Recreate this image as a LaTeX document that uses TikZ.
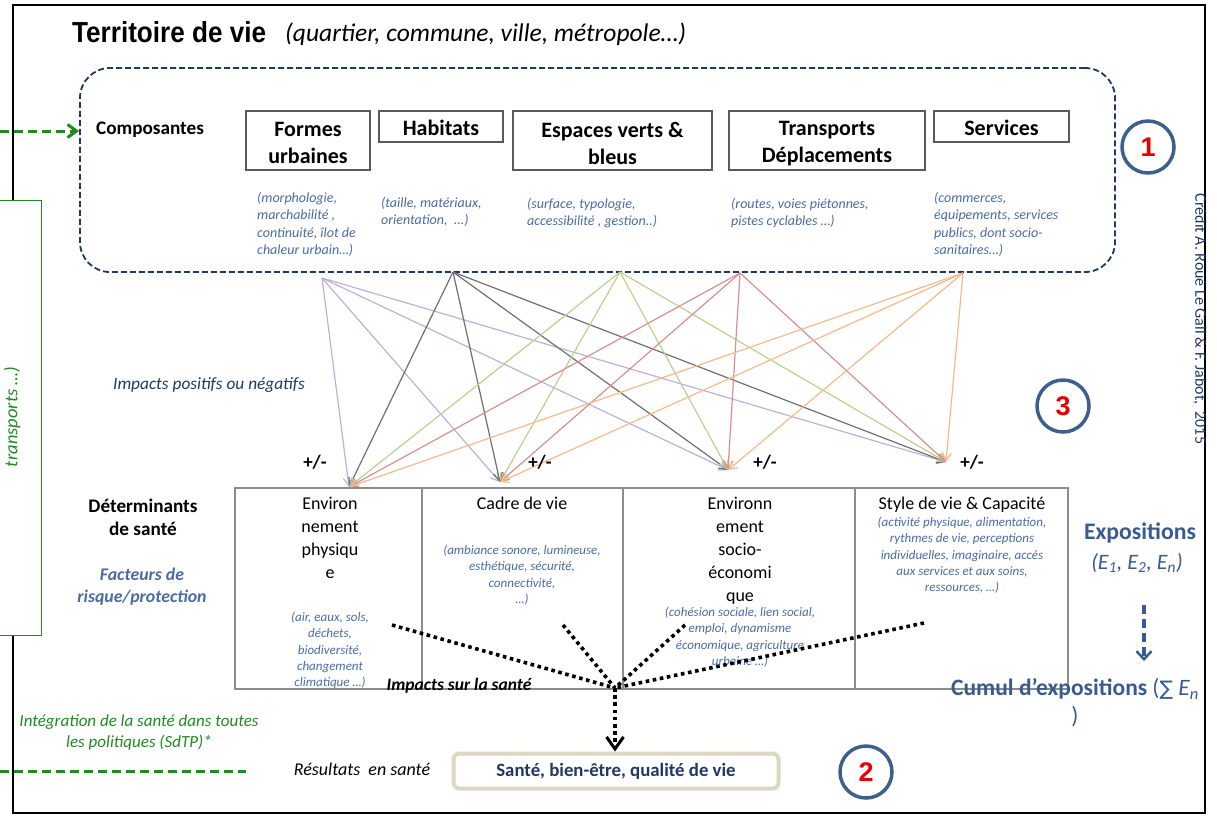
\documentclass[tikz,border=0pt]{standalone}
\usepackage{fontspec}
\setmainfont{Carlito}
\newfontfamily\arialfont{Liberation Sans}
\newfontfamily\symbfont{DejaVu Sans}
\usetikzlibrary{arrows.meta}

\definecolor{navy}{HTML}{1F3864}
\definecolor{descblue}{HTML}{4A6BA3}
\definecolor{expblue}{HTML}{3A5A92}
\definecolor{ringblue}{HTML}{3D5F8E}
\definecolor{numred}{HTML}{E60000}
\definecolor{sdtpgreen}{HTML}{1E8C1E}
\definecolor{boxgray}{HTML}{8C8C8C}
\definecolor{compgray}{HTML}{5A5A5A}
\definecolor{lav}{HTML}{BDB1DA}
\definecolor{darkg}{HTML}{6F6F6F}
\definecolor{lgreen}{HTML}{BCD18E}
\definecolor{rose}{HTML}{D6918F}
\definecolor{orng}{HTML}{F8B98A}
\definecolor{tanb}{HTML}{DCD7C0}

\newcommand\fsz[2]{\fontsize{#1}{#2}\selectfont}

\tikzset{
  compbox/.style={draw=compgray, line width=1.4pt, inner sep=0pt},
  comptext/.style={inner sep=0pt, align=center, font=\bfseries\fsz{22}{27}},
  desc/.style={anchor=north west, inner sep=0pt, align=left, text=descblue,
    font=\itshape\fsz{14}{17.5}},
  detbox/.style={draw=boxgray, line width=1.8pt, inner sep=0pt},
  dettitle/.style={anchor=north, inner sep=0pt, align=center, font=\fsz{18}{23}},
  detdesc/.style={anchor=north, inner sep=0pt, align=center, text=descblue,
    font=\itshape\fsz{13}{16.2}},
  ring/.style={circle, draw=ringblue, line width=3.5pt, minimum size=52pt,
    inner sep=0pt, text=numred, font=\arialfont\bfseries\fsz{27}{27}},
  impact/.style={line width=1.2pt, -{Straight Barb[length=8pt,width=9pt]}},
  dotline/.style={line width=3.6pt, dash pattern=on 3.6pt off 3.6pt},
  sdtpline/.style={draw=sdtpgreen, line width=3pt, dash pattern=on 9pt off 5pt},
  pm/.style={font=\bfseries\fsz{19}{21}, inner sep=0pt},
  lbl/.style={inner sep=0pt, align=center}
}

\begin{document}
\begin{tikzpicture}[x=1pt, y=-1pt]
\useasboundingbox (0,0) rectangle (1217,815);

% outer frame
\draw[black, line width=1.5pt] (13,5) rectangle (1205,813);

% title
\node[anchor=base west, inner sep=0pt] (title) at (72,42)
  {\arialfont\bfseries\fsz{29}{31}\scalebox{0.9}[1]{Territoire de vie}};
\node[anchor=base west, inner sep=0pt] (subtitle) at (285,41)
  {\itshape\fsz{25.5}{28}(quartier, commune, ville, métropole…)};

% components frame
\node[draw=navy, line width=1.8pt, dash pattern=on 6pt off 3pt, rounded corners=30pt,
  minimum width=1035pt, minimum height=204pt, inner sep=0pt] (compframe) at (597.5,170) {};
\node[anchor=base west, inner sep=0pt, font=\bfseries\fsz{19.2}{22}] (composantes) at (96,134) {Composantes};

\node[compbox, minimum width=124pt, minimum height=59pt] (formes) at (308,140.5) {};
\node[compbox, minimum width=124pt, minimum height=31pt] (habitats) at (441,126.5) {};
\node[compbox, minimum width=199pt, minimum height=59pt] (espaces) at (612.5,140.5) {};
\node[compbox, minimum width=196pt, minimum height=59pt] (transports) at (827,140.5) {};
\node[compbox, minimum width=135pt, minimum height=31pt] (services) at (1001.5,126.5) {};
\node[comptext] (formest) at ([yshift=-2.5pt]formes.center) {Formes\\urbaines};
\node[comptext] (habitatst) at ([yshift=-1pt]habitats.center) {Habitats};
\node[comptext] (espacest) at ([yshift=-2.5pt]espaces.center) {Espaces verts \&\\bleus};
\node[comptext] (transportst) at ([yshift=-3.5pt]transports.center) {Transports\\Déplacements};
\node[comptext] (servicest) at ([yshift=-1pt]services.center) {Services};

\node[desc] (formesdesc) at (257,192) {(morphologie,\\marchabilité ,\\continuité, îlot de\\chaleur urbain…)};
\node[desc] (habitatsdesc) at (381,197) {(taille, matériaux,\\orientation, \ ...)};
\node[desc] (espacesdesc) at (527,198) {(surface, typologie,\\accessibilité , gestion..)};
\node[desc] (transportsdesc) at (731,198) {(routes, voies piétonnes,\\pistes cyclables …)};
\node[desc] (servicesdesc) at (934,192) {(commerces,\\équipements, services\\publics, dont socio-\\sanitaires…)};

% numbered rings
\node[ring] (num1) at (1148,147) {1};
\node[ring] (num3) at (1063,406) {3};
\node[ring] (num2) at (866,772) {2};

% credit
\node[rotate=-90, inner sep=0pt, text=navy, font=\fsz{16}{18}] (credit) at (1200,319)
  {Crédit A. Roué Le Gall \& F. Jabot,~~2015};

% SdTP side box
\node[draw=sdtpgreen, fill=white, line width=1.2pt, minimum width=43pt, minimum height=435pt,
  anchor=north west, inner sep=0pt] (sdtpbox) at (-2,200) {};
\node[rotate=90, inner sep=0pt, text=sdtpgreen, font=\itshape\fsz{18.5}{20}] (sdtptext) at (12,417) {transports …)};
\coordinate (sdtpin) at (0,131);
\draw[sdtpline, -{Straight Barb[length=9pt,width=13pt]}] (sdtpin) -- (sdtpin -| compframe.west);
\coordinate (sdtpL) at (0,771);
\coordinate (sdtpR) at (246,771);
\draw[sdtpline] (sdtpL) -- (sdtpR);
\node[lbl, text=sdtpgreen, font=\itshape\fsz{17}{21}] (sdtplabel) at (139,732)
  {Intégration de la santé dans toutes\\les politiques (SdTP)*};

% impacts between components and determinants
\node[lbl, text=navy, font=\itshape\fsz{17.3}{20}] (impactslbl) at (209,385) {Impacts positifs ou négatifs};
\coordinate (sA) at (322,278);
\coordinate (sB) at (453,272);
\coordinate (sC) at (620,272);
\coordinate (sD) at (740,273);
\coordinate (sE) at (963,273);
\coordinate (t1) at (349,487);
\coordinate (t2) at (500,482);
\coordinate (t3) at (728,470);
\coordinate (t4) at (946,462);
\foreach \s/\c in {sA/lav, sB/darkg, sC/lgreen, sD/rose, sE/orng}
  \foreach \t in {t1,t2,t3,t4}
    \draw[impact, draw=\c] (\s) -- (\t);

\node[pm] (pm1) at (315,462) {+/-};
\node[pm] (pm2) at (540,462) {+/-};
\node[pm] (pm3) at (765,462) {+/-};
\node[pm] (pm4) at (972,462) {+/-};

% determinants
\node[lbl, font=\bfseries\fsz{19.2}{23}] (detlbl) at (143,517) {Déterminants\\de santé};
\node[lbl, text=descblue, font=\bfseries\itshape\fsz{17.8}{22}] (facteurs) at (142,587) {Facteurs de\\risque/protection};

\node[detbox, minimum width=187pt, minimum height=201pt] (physique) at (328.5,588.5) {};
\node[detbox, minimum width=201pt, minimum height=201pt] (cadre) at (522.5,588.5) {};
\node[detbox, minimum width=232pt, minimum height=201pt] (socio) at (739,588.5) {};
\node[detbox, minimum width=213pt, minimum height=201pt] (style) at (961.5,588.5) {};

\node[dettitle] (physiquet) at (330,497) {Environ\\nement\\physiqu\\e};
\node[detdesc] (physiqued) at (330,612) {(air, eaux, sols,\\déchets,\\biodiversité,\\changement\\climatique …)};
\node[dettitle] (cadret) at (522,497) {Cadre de vie};
\node[detdesc] (cadred) at (522,545) {(ambiance sonore, lumineuse,\\esthétique, sécurité,\\connectivité,\\…)};
\node[dettitle] (sociot) at (740,497) {Environn\\ement\\socio-\\économi\\que};
\node[detdesc] (sociod) at (740,607) {(cohésion sociale, lien social,\\emploi, dynamisme\\économique, agriculture\\urbaine …)};
\node[dettitle] (stylet) at (962,497) {Style de vie \& Capacité};
\node[detdesc] (styled) at (962,517) {(activité physique, alimentation,\\rythmes de vie, perceptions\\individuelles, imaginaire, accès\\aux services et aux soins,\\ressources, …)};

% health impacts
\coordinate (d1) at (392,625);
\coordinate (d2) at (563,625);
\coordinate (d3) at (685,625);
\coordinate (d4) at (924,623);
\coordinate (dj) at (615,688);
\foreach \d in {d1,d2,d3,d4}
  \draw[dotline] (\d) -- (dj);
\node[lbl, font=\bfseries\itshape\fsz{17.5}{20}] (impsante) at (459,686) {Impacts sur la santé};

% health outcomes
\node[draw=tanb, line width=4pt, rounded corners=6pt, minimum width=325pt, minimum height=35pt,
  fill=white, inner sep=0pt, text=navy, font=\bfseries\fsz{18.8}{21}] (sante) at (616,771)
  {Santé, bien-être, qualité de vie};
\draw[dotline, -{Straight Barb[length=12pt,width=17pt,line width=3pt]}] (dj) -- (sante.north -| dj);
\node[lbl, font=\itshape\fsz{18}{20}] (resultats) at (362,769) {Résultats \ en santé};

% exposures
\node[lbl, text=expblue, font=\bfseries\fsz{23.7}{26}] (expo) at (1140,533) {Expositions};
\node[lbl, text=expblue, font=\itshape\fsz{22}{24}] (expolist) at (1137,563)
  {(E\textsubscript{1}, E\textsubscript{2}, E\textsubscript{n})};
\coordinate (expa) at (1144,605);
\coordinate (expb) at (1144,661);
\draw[expblue, line width=4pt, dash pattern=on 9pt off 5pt,
  -{Straight Barb[length=8pt,width=15pt,line width=2.5pt]}] (expa) -- (expb);
\node[lbl, text=expblue, font=\fsz{23.5}{28}] (cumul) at (1075,703)
  {\textbf{Cumul d’expositions} ({\symbfont\fsz{20}{22}∑} \textit{E\textsubscript{n}}\\)};

\end{tikzpicture}
\end{document}
